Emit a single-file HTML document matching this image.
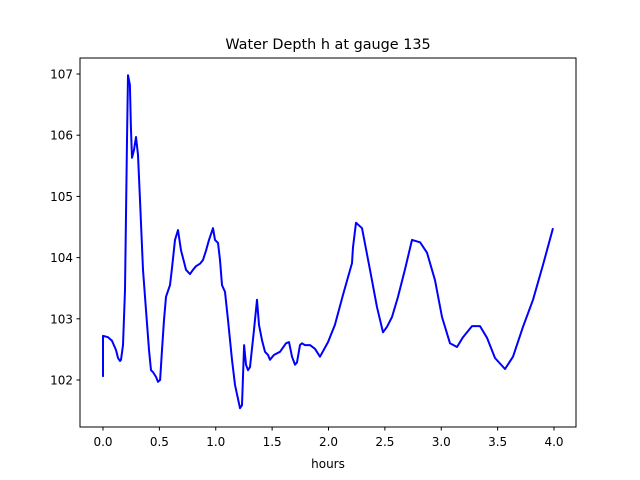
<!DOCTYPE html>
<html><head><meta charset="utf-8"><style>body{margin:0;background:#fff}svg{display:block;font-family:"DejaVu Sans","Liberation Sans",sans-serif}</style></head>
<body>
<svg id="chart" width="640" height="480" viewBox="0 0 640 480">
<rect width="640" height="480" fill="#fff"/>
<text x="328" y="49" text-anchor="middle" font-size="14.4">Water Depth h at gauge 135</text>
<g id="xt"></g>
<g id="yt"></g>
<path id="line" fill="none" stroke="#0000ff" stroke-width="2" stroke-linejoin="round"/>
<rect x="80" y="58" width="496" height="369" fill="none" stroke="#000" stroke-width="1"/>
<text x="328" y="468" text-anchor="middle" font-size="12">hours</text>
</svg>
<script>
const hours=[0,0,0.044,0.080,0.115,0.133,0.151,0.160,0.177,0.195,0.213,0.222,0.239,0.248,0.257,0.275,0.293,0.310,0.328,0.355,0.381,0.408,0.426,0.443,0.470,0.488,0.506,0.523,0.541,0.559,0.594,0.612,0.639,0.665,0.692,0.718,0.736,0.772,0.798,0.825,0.860,0.887,0.914,0.940,0.976,0.993,1.020,1.038,1.055,1.082,1.109,1.144,1.171,1.215,1.233,1.251,1.268,1.286,1.304,1.339,1.366,1.384,1.410,1.437,1.463,1.481,1.517,1.570,1.623,1.650,1.676,1.703,1.721,1.747,1.765,1.792,1.836,1.880,1.925,1.996,2.057,2.129,2.208,2.217,2.244,2.297,2.368,2.430,2.483,2.519,2.563,2.616,2.678,2.741,2.812,2.874,2.945,3.007,3.078,3.140,3.193,3.273,3.344,3.406,3.477,3.565,3.636,3.725,3.814,3.902,3.991];
const depth=[102.05,102.72,102.70,102.64,102.49,102.36,102.31,102.33,102.57,103.47,105.92,106.98,106.82,106.08,105.63,105.76,105.97,105.68,104.94,103.80,103.14,102.49,102.16,102.13,102.05,101.97,102.00,102.49,102.98,103.36,103.55,103.83,104.29,104.45,104.12,103.93,103.80,103.73,103.80,103.86,103.90,103.96,104.12,104.29,104.48,104.29,104.24,103.96,103.55,103.44,102.98,102.33,101.92,101.54,101.59,102.57,102.25,102.16,102.21,102.82,103.31,102.90,102.65,102.46,102.41,102.33,102.41,102.46,102.60,102.62,102.38,102.25,102.29,102.57,102.60,102.57,102.57,102.51,102.38,102.62,102.90,103.39,103.91,104.17,104.57,104.48,103.80,103.19,102.78,102.87,103.03,103.36,103.80,104.29,104.25,104.08,103.63,103.03,102.60,102.54,102.70,102.88,102.88,102.69,102.36,102.18,102.38,102.87,103.31,103.88,104.48];
const xTicks=[0,0.5,1,1.5,2,2.5,3,3.5,4];
const xTickLabels=["0.0","0.5","1.0","1.5","2.0","2.5","3.0","3.5","4.0"];
const yTicks=[102,103,104,105,106,107];
const yTickLabels=["102","103","104","105","106","107"];
const X=t=>103+t*112.75, Y=v=>74+(107-v)*61.2;
const NS="http://www.w3.org/2000/svg";
const xt=document.getElementById('xt'), yt=document.getElementById('yt');
xTicks.forEach((t,i)=>{
 const l=document.createElementNS(NS,'line');
 
 
 l.setAttribute('x1',X(t));l.setAttribute('x2',X(t));l.setAttribute('y1',427);l.setAttribute('y2',430.5);l.setAttribute('stroke','#000');
 xt.appendChild(l);
 const s=document.createElementNS(NS,'text');
 
 
 s.setAttribute('x',X(t));s.setAttribute('y',446);s.setAttribute('text-anchor','middle');s.setAttribute('font-size','12');
 s.textContent=xTickLabels[i];xt.appendChild(s);
});
yTicks.forEach((v,i)=>{
 const l=document.createElementNS(NS,'line');
 
 
 l.setAttribute('x1',76.5);l.setAttribute('x2',80);l.setAttribute('y1',Y(v));l.setAttribute('y2',Y(v));l.setAttribute('stroke','#000');
 yt.appendChild(l);
 const s=document.createElementNS(NS,'text');
 
 
 s.setAttribute('x',73);s.setAttribute('y',Y(v)+4.5);s.setAttribute('text-anchor','end');s.setAttribute('font-size','12');
 s.textContent=yTickLabels[i];yt.appendChild(s);
});
document.getElementById('line').setAttribute('d',hours.map((t,i)=>(i?'L':'M')+X(t).toFixed(1)+','+Y(depth[i]).toFixed(1)).join(''));
</script>
</body></html>
